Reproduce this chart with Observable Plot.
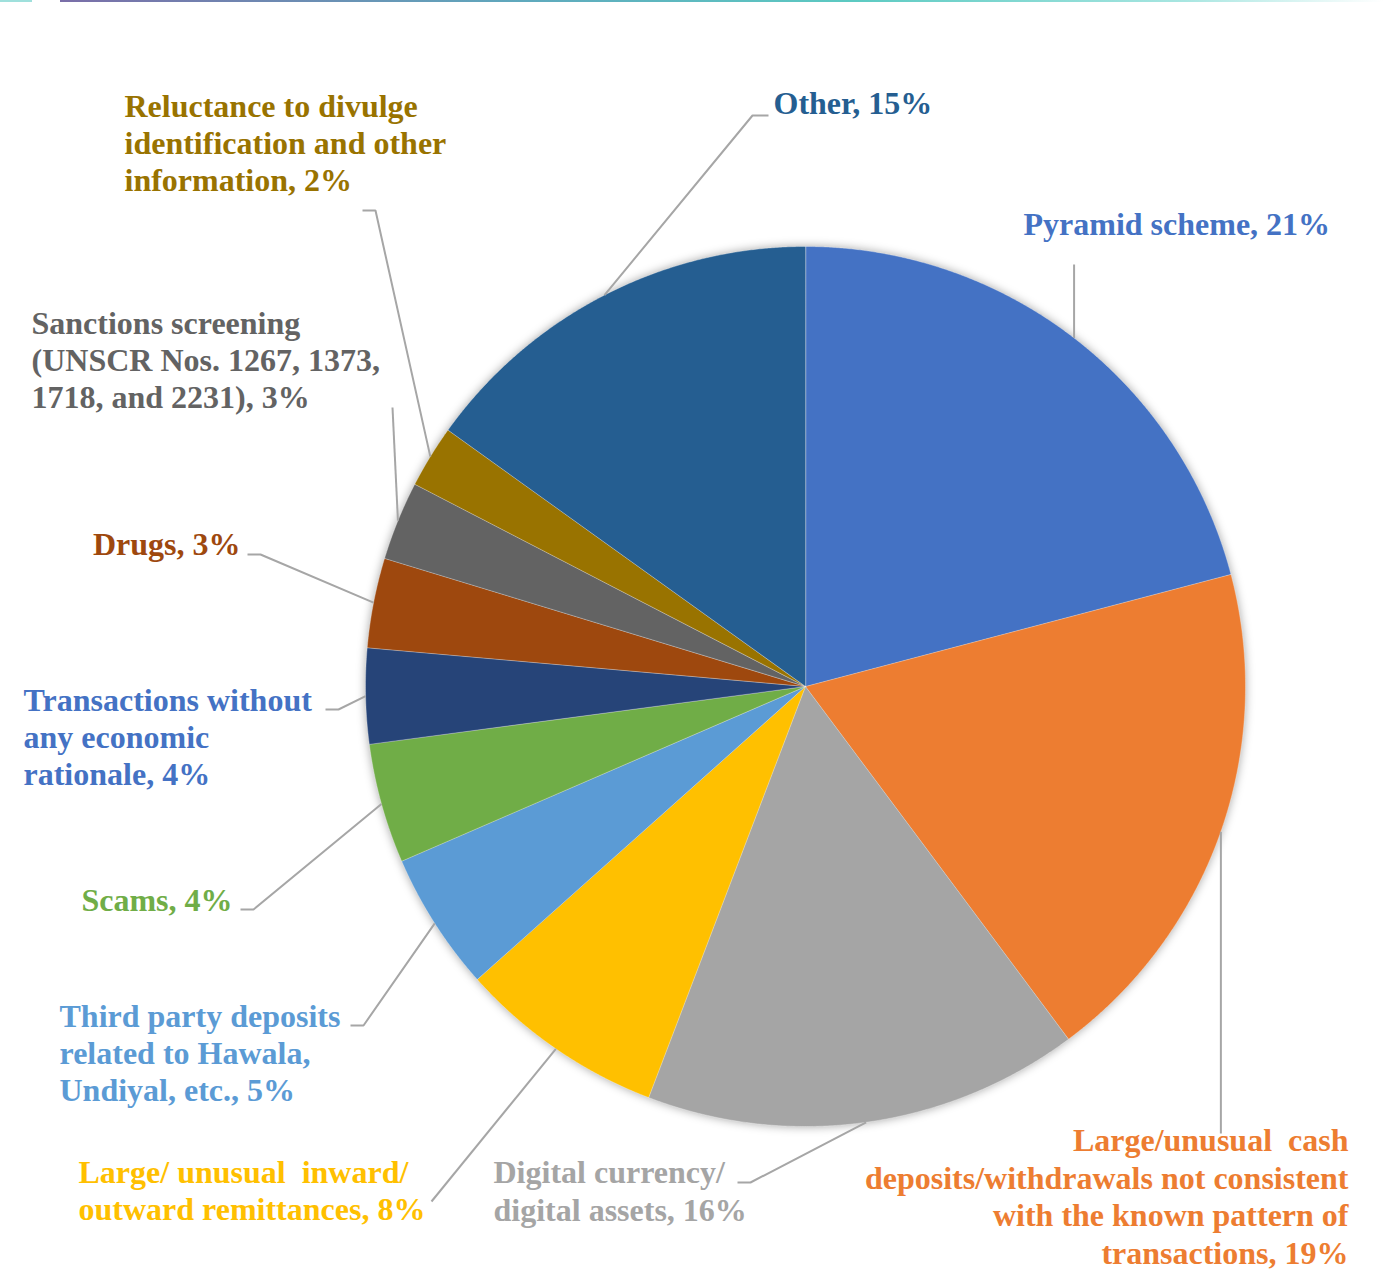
<!DOCTYPE html>
<html><head><meta charset="utf-8">
<script src="https://cdn.jsdelivr.net/npm/d3@7"></script>
<script src="https://cdn.jsdelivr.net/npm/@observablehq/plot@0.6"></script>
<style>
html,body{margin:0;padding:0;background:#fff;}
#chart{position:relative;width:1383px;height:1283px;}
#bar1{position:absolute;left:0;top:0;width:32px;height:2px;background:#9fe0dc;}
#bar2{position:absolute;left:60px;top:0;width:1323px;height:2px;background:linear-gradient(to right,#7a6ea8 0%,#5fa9bd 35%,#5ccac2 60%,#a8e6e1 85%,#ffffff 100%);}
.pie{filter:drop-shadow(0px 0px 5px rgba(0,0,0,0.35));}
</style></head><body>
<div id="chart"><div id="bar1"></div><div id="bar2"></div></div>
<script>
// ---- data ----
const categories = [
  "Pyramid scheme",
  "Large/unusual cash deposits/withdrawals not consistent with the known pattern of transactions",
  "Digital currency/ digital assets",
  "Large/ unusual inward/ outward remittances",
  "Third party deposits related to Hawala, Undiyal, etc.",
  "Scams",
  "Transactions without any economic rationale",
  "Drugs",
  "Sanctions screening (UNSCR Nos. 1267, 1373, 1718, and 2231)",
  "Reluctance to divulge identification and other information",
  "Other"
];
const shares = [20.9, 18.9, 16.0, 7.6, 5.1, 4.4, 3.5, 3.3, 2.9, 2.3, 15.1];
const shownPercents = [21, 19, 16, 8, 5, 4, 4, 3, 3, 2, 15];
const labelTexts = [
  "Pyramid scheme, 21%",
  "Large/unusual  cash\ndeposits/withdrawals not consistent\nwith the known pattern of\ntransactions, 19%",
  "Digital currency/\ndigital assets, 16%",
  "Large/ unusual  inward/\noutward remittances, 8%",
  "Third party deposits\nrelated to Hawala,\nUndiyal, etc., 5%",
  "Scams, 4%",
  "Transactions without\nany economic\nrationale, 4%",
  "Drugs, 3%",
  "Sanctions screening\n(UNSCR Nos. 1267, 1373,\n1718, and 2231), 3%",
  "Reluctance to divulge\nidentification and other\ninformation, 2%",
  "Other, 15%"
];

// ---- styles ----
const sliceColors = ["#4472C4","#ED7D31","#A5A5A5","#FFC000","#5B9BD5","#70AD47","#264478","#9E480E","#636363","#997300","#255E91"];
const labelColors = ["#4472C4","#ED7D31","#A5A5A5","#FFC000","#5B9BD5","#70AD47","#4472C4","#9E480E","#636363","#997300","#255E91"];

// ---- layout ----
const W = 1383, H = 1283;
const CX = 805, CY = 686, R = 440;
// label block centre, anchor, and leader route (points after the slice edge)
const labelLayout = [
  {x: 1023, y: 222.5, anchor: "start", route: [[null, 264]]},
  {x: 1348, y: 1195, anchor: "end", route: [[null, 1133]]},
  {x: 493, y: 1189.5, anchor: "start", route: [[750, 1182], [737, 1182]]},
  {x: 78, y: 1189, anchor: "start", route: [[431, 1201]]},
  {x: 59, y: 1051.5, anchor: "start", route: [[363, 1025], [350, 1025]]},
  {x: 232, y: 898.5, anchor: "end", route: [[253, 909], [240, 909]]},
  {x: 23, y: 735.5, anchor: "start", route: [[338, 709], [325, 709]]},
  {x: 240, y: 542.5, anchor: "end", route: [[260, 554], [247, 554]]},
  {x: 31, y: 358.5, anchor: "start", route: [[392, 407]]},
  {x: 124, y: 141.5, anchor: "start", route: [[375, 210], [362, 210]]},
  {x: 773, y: 101.5, anchor: "start", route: [[752, 115], [768, 115]]}
];

const data = categories.map((c, i) => ({category: c, share: shares[i], pct: shownPercents[i], label: labelTexts[i]}));
const arcs = d3.pie().sort(null).value(d => d.share).startAngle(0).endAngle(2 * Math.PI)(data);

const pt = (a, r) => [CX + r * Math.sin(a), CY - r * Math.cos(a)];

const slicePts = [];
arcs.forEach(a => {
  slicePts.push({category: a.data.category, x: CX, y: CY});
  const n = Math.max(2, Math.ceil((a.endAngle - a.startAngle) / 0.004));
  for (let k = 0; k <= n; k++) {
    const ang = a.startAngle + (a.endAngle - a.startAngle) * k / n;
    const [x, y] = pt(ang, R);
    slicePts.push({category: a.data.category, x, y});
  }
});

const leaderPts = [];
arcs.forEach((a, i) => {
  const mid = (a.startAngle + a.endAngle) / 2;
  const [x0, y0] = pt(mid, R);
  leaderPts.push({category: a.data.category, x: x0, y: y0});
  labelLayout[i].route.forEach(([x, y]) => leaderPts.push({category: a.data.category, x: x == null ? x0 : x, y}));
});

const textMarks = arcs.map((a, i) => Plot.text([{...labelLayout[i], text: a.data.label}], {
  x: "x", y: "y", text: "text",
  textAnchor: labelLayout[i].anchor, lineAnchor: "middle", lineHeight: 1.17,
  fontSize: 32, fontWeight: "bold", fill: labelColors[i]
}));

const plot = Plot.plot({
  width: W, height: H, margin: 0,
  x: {domain: [0, W], range: [0, W], axis: null},
  y: {domain: [0, H], range: [0, H], axis: null},
  color: {domain: categories, range: sliceColors},
  style: {background: "transparent", fontFamily: "'Liberation Serif', 'Times New Roman', serif", overflow: "visible"},
  marks: [
    Plot.line(slicePts, {x: "x", y: "y", z: "category", fill: "category", stroke: "#ffffff", strokeWidth: 0.7, strokeOpacity: 0.45, curve: "linear-closed", className: "pie"}),
    Plot.line(leaderPts, {x: "x", y: "y", z: "category", stroke: "#A6A6A6", strokeWidth: 2, strokeLinecap: "butt", strokeLinejoin: "miter"}),
    ...textMarks
  ]
});
plot.style.position = "absolute";
plot.style.left = "0px";
plot.style.top = "0px";
document.getElementById("chart").appendChild(plot);
</script>
</body></html>
